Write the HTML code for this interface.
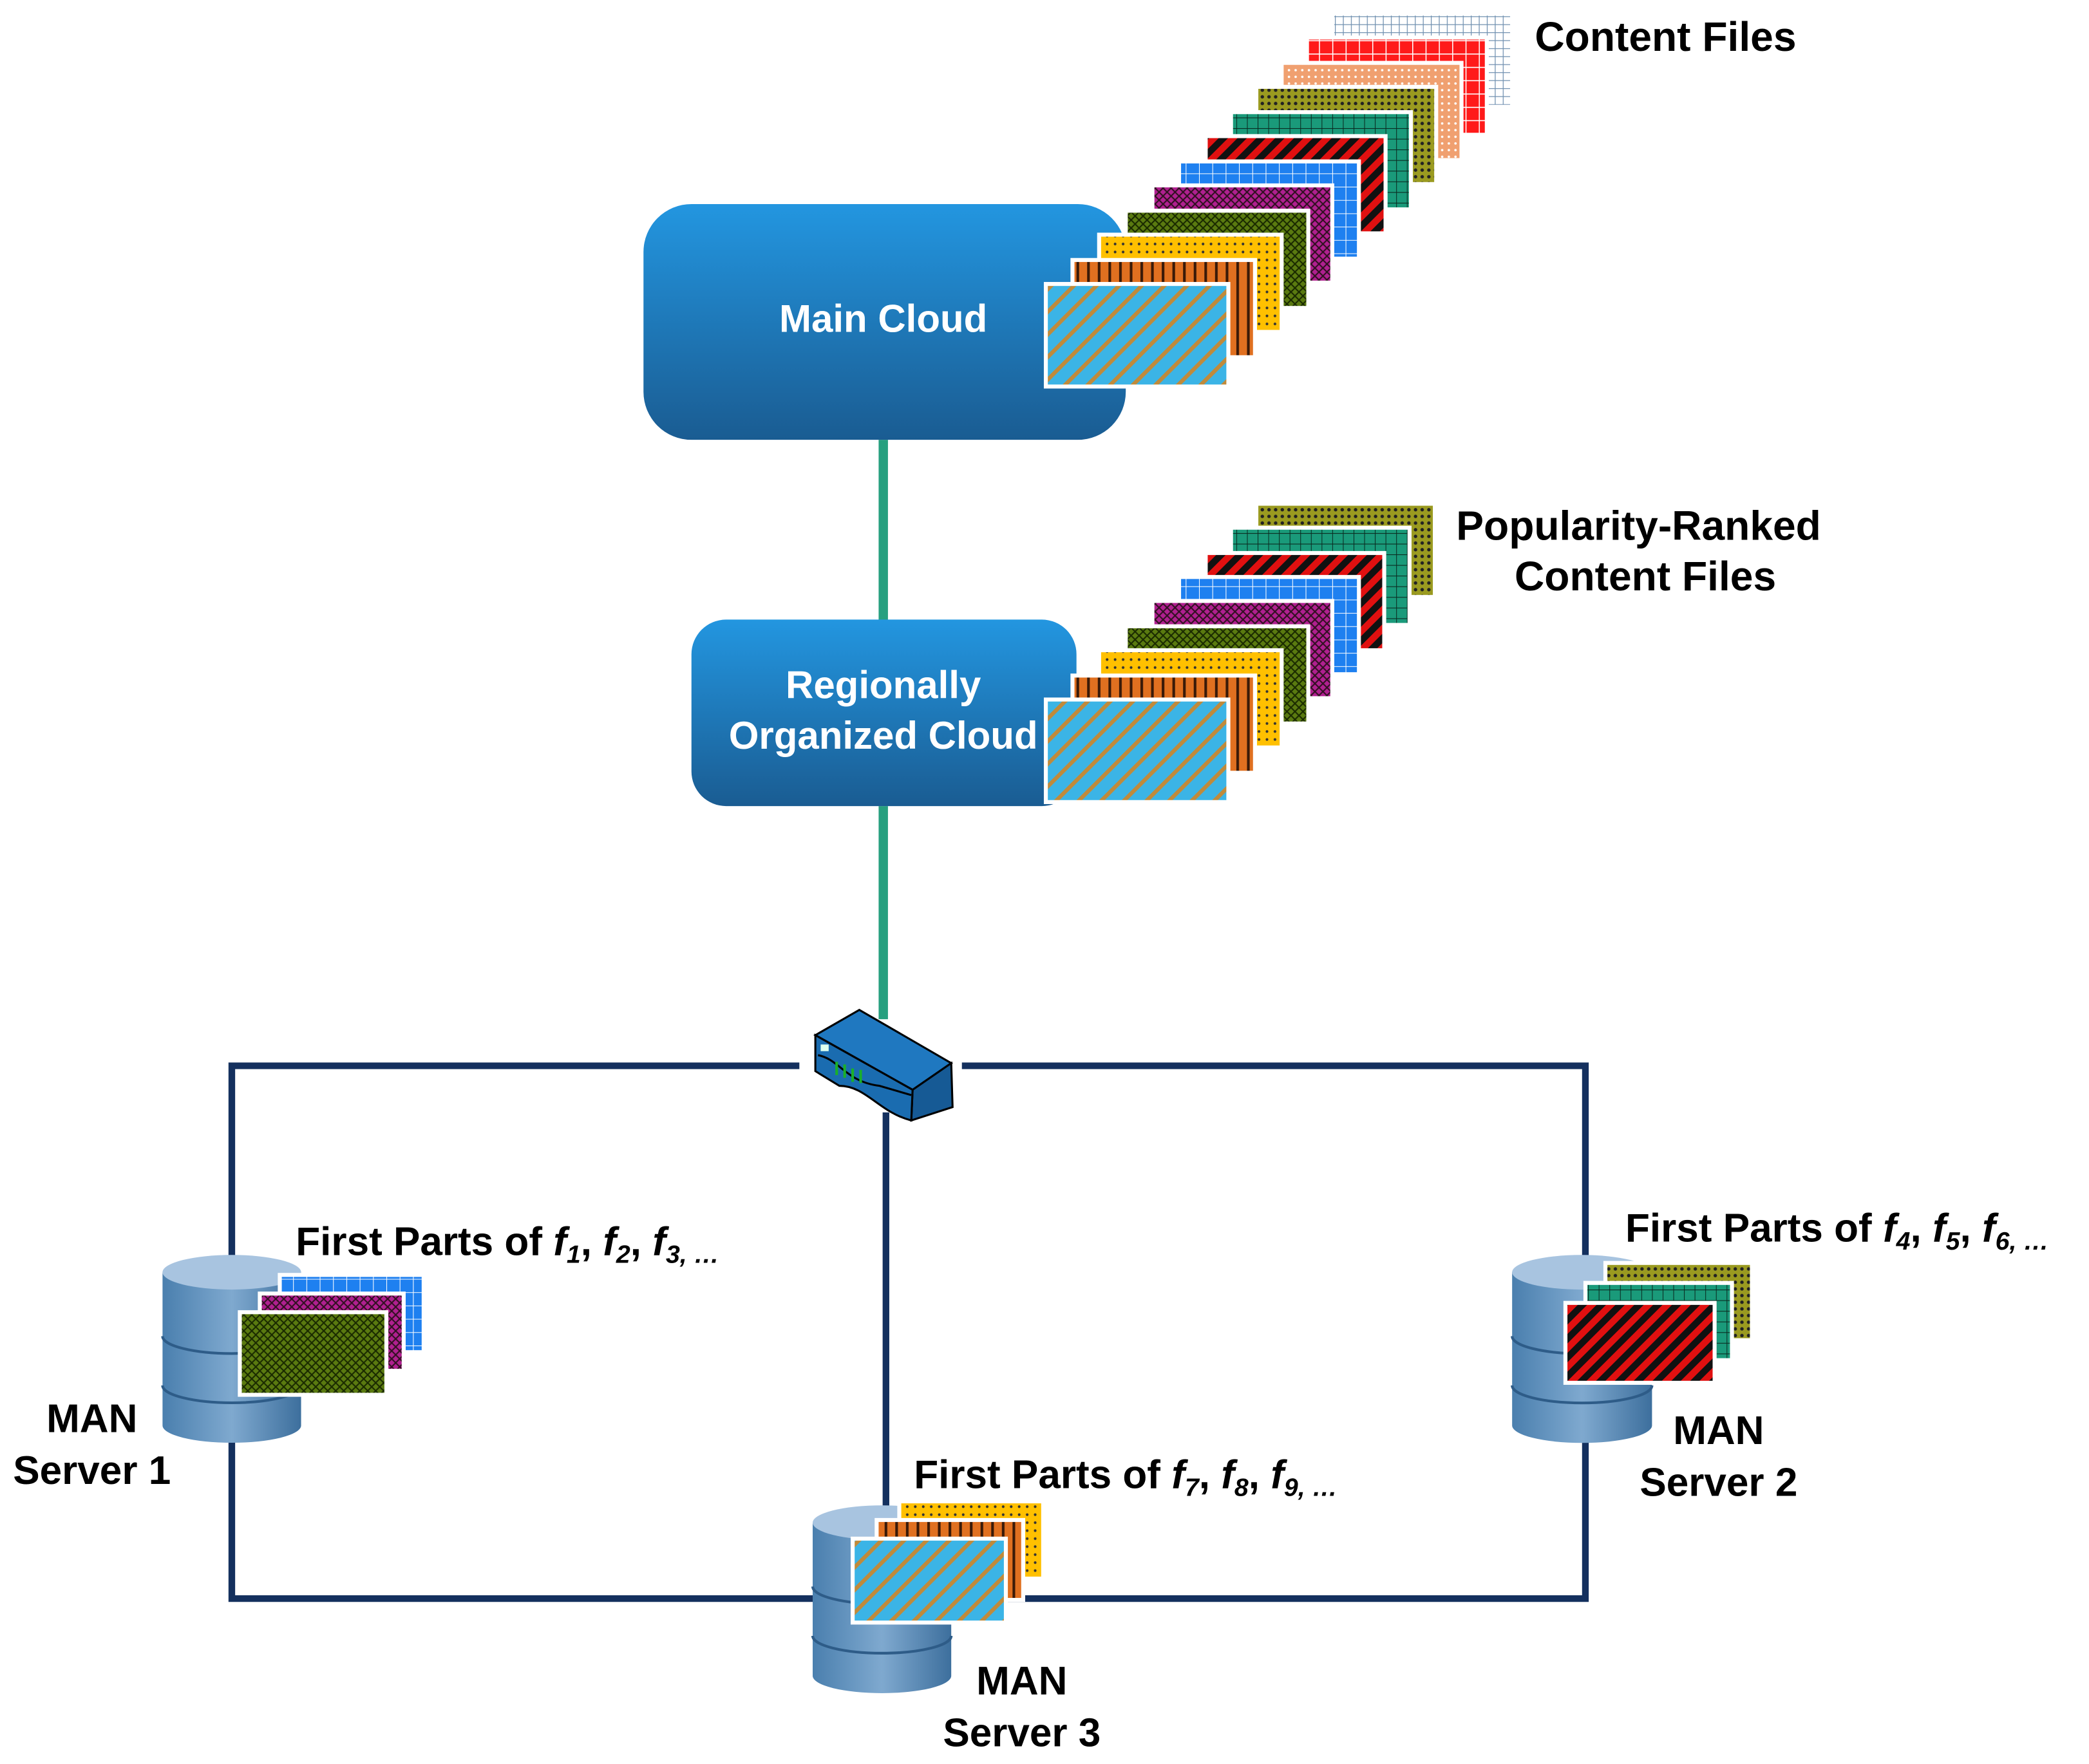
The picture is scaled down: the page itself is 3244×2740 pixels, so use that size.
<!DOCTYPE html>
<html><head><meta charset="utf-8"><style>html,body{margin:0;padding:0;background:#fff}svg{display:block}</style></head>
<body>
<svg width="3244" height="2740" viewBox="0 0 1568 1324" xmlns="http://www.w3.org/2000/svg" font-family="Liberation Sans, Arial, sans-serif">
<defs>
<linearGradient id="cg" x1="0" y1="0" x2="0" y2="1"><stop offset="0" stop-color="#2396e0"/><stop offset="1" stop-color="#1a5c92"/></linearGradient>
<linearGradient id="dbg" x1="0" y1="0" x2="1" y2="0"><stop offset="0" stop-color="#4a7fae"/><stop offset="0.5" stop-color="#7fa9cf"/><stop offset="1" stop-color="#3d6f9d"/></linearGradient>
<pattern id="pCyan" width="12" height="12" patternUnits="userSpaceOnUse" patternTransform="rotate(45)"><rect width="12" height="12" fill="#3bb4e6"/><rect width="3" height="12" fill="#c08a3a"/></pattern>
<pattern id="pOrange" width="8" height="8" patternUnits="userSpaceOnUse"><rect width="8" height="8" fill="#e07020"/><rect width="2" height="8" fill="#3a1a08"/></pattern>
<pattern id="pYellow" width="6" height="6" patternUnits="userSpaceOnUse"><rect width="6" height="6" fill="#ffc000"/><circle cx="3" cy="3" r="1" fill="#333"/></pattern>
<pattern id="pOlive" width="6" height="6" patternUnits="userSpaceOnUse"><rect width="6" height="6" fill="#5a7a10"/><path d="M0 0L6 6M6 0L0 6" stroke="#1a2a00" stroke-width="1"/></pattern>
<pattern id="pPurple" width="6" height="6" patternUnits="userSpaceOnUse"><rect width="6" height="6" fill="#b02090"/><path d="M0 0L6 6M6 0L0 6" stroke="#301020" stroke-width="1"/></pattern>
<pattern id="pBlue" width="10" height="10" patternUnits="userSpaceOnUse"><rect width="10" height="10" fill="#1e80f0"/><path d="M0 0H10M0 0V10" stroke="#fff" stroke-width="1"/></pattern>
<pattern id="pBR" width="10" height="10" patternUnits="userSpaceOnUse" patternTransform="rotate(45)"><rect width="10" height="10" fill="#e01010"/><rect width="5" height="10" fill="#111"/></pattern>
<pattern id="pTeal" width="8" height="8" patternUnits="userSpaceOnUse"><rect width="8" height="8" fill="#1a9a7a"/><path d="M0 0H8M0 0V8" stroke="#0a2a20" stroke-width="1"/></pattern>
<pattern id="pOdot" width="5" height="5" patternUnits="userSpaceOnUse"><rect width="5" height="5" fill="#9a9a20"/><circle cx="2.5" cy="2.5" r="1.3" fill="#222"/></pattern>
<pattern id="pPeach" width="5" height="5" patternUnits="userSpaceOnUse"><rect width="5" height="5" fill="#f0a070"/><circle cx="2.5" cy="2.5" r="0.9" fill="#fff"/></pattern>
<pattern id="pRed" width="10" height="10" patternUnits="userSpaceOnUse"><rect width="10" height="10" fill="#ff1a1a"/><path d="M0 0H10M0 0V10" stroke="#fff" stroke-width="1.5"/></pattern>
<pattern id="pLB" width="6" height="6" patternUnits="userSpaceOnUse"><rect width="6" height="6" fill="#fff"/><path d="M0 0H6M0 0V6" stroke="#7090b0" stroke-width="1.2"/></pattern>
</defs>

<line x1="663" y1="330" x2="663" y2="467" stroke="#27a07f" stroke-width="7"/>
<line x1="663" y1="605" x2="663" y2="765" stroke="#27a07f" stroke-width="7"/>
<path d="M600 800 H174 V1200 H1190 V800 H722" fill="none" stroke="#14305e" stroke-width="5"/>
<line x1="665" y1="835" x2="665" y2="1140" stroke="#14305e" stroke-width="5"/>

<rect x="483" y="153" width="362" height="177" rx="36" fill="url(#cg)"/>
<text x="663" y="249" fill="#fff" font-size="29" font-weight="bold" text-anchor="middle">Main Cloud</text>
<rect x="519" y="465" width="289" height="140" rx="26" fill="url(#cg)"/>
<text x="663" y="524" fill="#fff" font-size="29" font-weight="bold" text-anchor="middle">Regionally</text>
<text x="663" y="562" fill="#fff" font-size="29" font-weight="bold" text-anchor="middle">Organized Cloud</text>

<g stroke="#fff" stroke-width="3">
<rect x="1000" y="10" width="135" height="70" fill="url(#pLB)"/>
<rect x="981" y="28" width="135" height="73" fill="url(#pRed)"/>
<rect x="962" y="47" width="135" height="73" fill="url(#pPeach)"/>
<rect x="943" y="65" width="135" height="73" fill="url(#pOdot)"/>
<rect x="924" y="84" width="135" height="73" fill="url(#pTeal)"/>
<rect x="905" y="102" width="135" height="73" fill="url(#pBR)"/>
<rect x="885" y="121" width="135" height="73" fill="url(#pBlue)"/>
<rect x="865" y="139" width="135" height="73" fill="url(#pPurple)"/>
<rect x="845" y="158" width="137" height="73" fill="url(#pOlive)"/>
<rect x="825" y="176" width="137" height="73" fill="url(#pYellow)"/>
<rect x="805" y="195" width="137" height="73" fill="url(#pOrange)"/>
<rect x="785" y="213" width="137" height="77" fill="url(#pCyan)"/>
</g>
<g stroke="#fff" stroke-width="3">
<rect x="943" y="378" width="134" height="70" fill="url(#pOdot)"/>
<rect x="924" y="396" width="134" height="73" fill="url(#pTeal)"/>
<rect x="905" y="415" width="134" height="73" fill="url(#pBR)"/>
<rect x="885" y="433" width="135" height="73" fill="url(#pBlue)"/>
<rect x="865" y="451" width="135" height="73" fill="url(#pPurple)"/>
<rect x="845" y="470" width="137" height="73" fill="url(#pOlive)"/>
<rect x="825" y="488" width="137" height="73" fill="url(#pYellow)"/>
<rect x="805" y="507" width="137" height="73" fill="url(#pOrange)"/>
<rect x="785" y="525" width="137" height="77" fill="url(#pCyan)"/>
</g>

<g font-weight="bold" font-size="31" fill="#000">
<text x="1152" y="38">Content Files</text>
<text x="1093" y="405">Popularity-Ranked</text>
<text x="1235" y="443" text-anchor="middle">Content Files</text>
</g>

<g stroke="#000" stroke-width="1.5">
<polygon points="612,777 645,758 714,798 685,818" fill="#1f78c0"/>
<polygon points="685,818 714,798 715,831 684,841" fill="#165a95"/>
<path d="M612,777 L685,818 L684,841 C660,835 650,815 630,815 L612,804 Z" fill="#1a6cb0"/>
<path d="M614,792 C630,795 635,812 660,815 L684,822" fill="none"/>
<rect x="616" y="784" width="6" height="5" fill="#dfe" stroke="none"/>
<path d="M628 797v10M634 799v10M640 802v10M646 803v10" stroke="#1ab02a" stroke-width="2"/>
</g>

<g>
<path d="M122 955 V1070 A52 13 0 0 0 226 1070 V955 Z" fill="url(#dbg)"/>
<ellipse cx="174" cy="955" rx="52" ry="13" fill="#a8c4e0"/>
<path d="M122 1003 A52 13 0 0 0 226 1003 M122 1040 A52 13 0 0 0 226 1040" fill="none" stroke="#2e5c88" stroke-width="2"/>
<path d="M1135 955 V1070 A52 13 0 0 0 1240 1070 V955 Z" fill="url(#dbg)"/>
<ellipse cx="1187" cy="955" rx="52" ry="13" fill="#a8c4e0"/>
<path d="M1135 1003 A52 13 0 0 0 1240 1003 M1135 1040 A52 13 0 0 0 1240 1040" fill="none" stroke="#2e5c88" stroke-width="2"/>
<path d="M610 1143 V1258 A52 13 0 0 0 714 1258 V1143 Z" fill="url(#dbg)"/>
<ellipse cx="662" cy="1143" rx="52" ry="13" fill="#a8c4e0"/>
<path d="M610 1191 A52 13 0 0 0 714 1191 M610 1228 A52 13 0 0 0 714 1228" fill="none" stroke="#2e5c88" stroke-width="2"/>
</g>

<g stroke="#fff" stroke-width="3">
<rect x="210" y="957" width="108" height="58" fill="url(#pBlue)"/>
<rect x="195" y="971" width="108" height="58" fill="url(#pPurple)"/>
<rect x="180" y="985" width="110" height="62" fill="url(#pOlive)"/>
<rect x="1205" y="948" width="110" height="58" fill="url(#pOdot)"/>
<rect x="1190" y="963" width="110" height="58" fill="url(#pTeal)"/>
<rect x="1175" y="978" width="112" height="60" fill="url(#pBR)"/>
<rect x="675" y="1127" width="108" height="58" fill="url(#pYellow)"/>
<rect x="658" y="1141" width="110" height="60" fill="url(#pOrange)"/>
<rect x="640" y="1155" width="115" height="63" fill="url(#pCyan)"/>
</g>

<g font-weight="bold" font-size="30" fill="#000">
<text x="222" y="942">First Parts of <tspan font-style="italic">f</tspan><tspan font-style="italic" font-size="19" dy="6">1</tspan><tspan dy="-6">, </tspan><tspan font-style="italic">f</tspan><tspan font-style="italic" font-size="19" dy="6">2</tspan><tspan dy="-6">, </tspan><tspan font-style="italic">f</tspan><tspan font-style="italic" font-size="19" dy="6">3, …</tspan></text>
<text x="1220" y="932">First Parts of <tspan font-style="italic">f</tspan><tspan font-style="italic" font-size="19" dy="6">4</tspan><tspan dy="-6">, </tspan><tspan font-style="italic">f</tspan><tspan font-style="italic" font-size="19" dy="6">5</tspan><tspan dy="-6">, </tspan><tspan font-style="italic">f</tspan><tspan font-style="italic" font-size="19" dy="6">6, …</tspan></text>
<text x="686" y="1117">First Parts of <tspan font-style="italic">f</tspan><tspan font-style="italic" font-size="19" dy="6">7</tspan><tspan dy="-6">, </tspan><tspan font-style="italic">f</tspan><tspan font-style="italic" font-size="19" dy="6">8</tspan><tspan dy="-6">, </tspan><tspan font-style="italic">f</tspan><tspan font-style="italic" font-size="19" dy="6">9, …</tspan></text>
<text x="69" y="1075" text-anchor="middle">MAN</text>
<text x="69" y="1114" text-anchor="middle">Server 1</text>
<text x="1290" y="1084" text-anchor="middle">MAN</text>
<text x="1290" y="1123" text-anchor="middle">Server 2</text>
<text x="767" y="1272" text-anchor="middle">MAN</text>
<text x="767" y="1311" text-anchor="middle">Server 3</text>
</g>
</svg>
</body></html>
